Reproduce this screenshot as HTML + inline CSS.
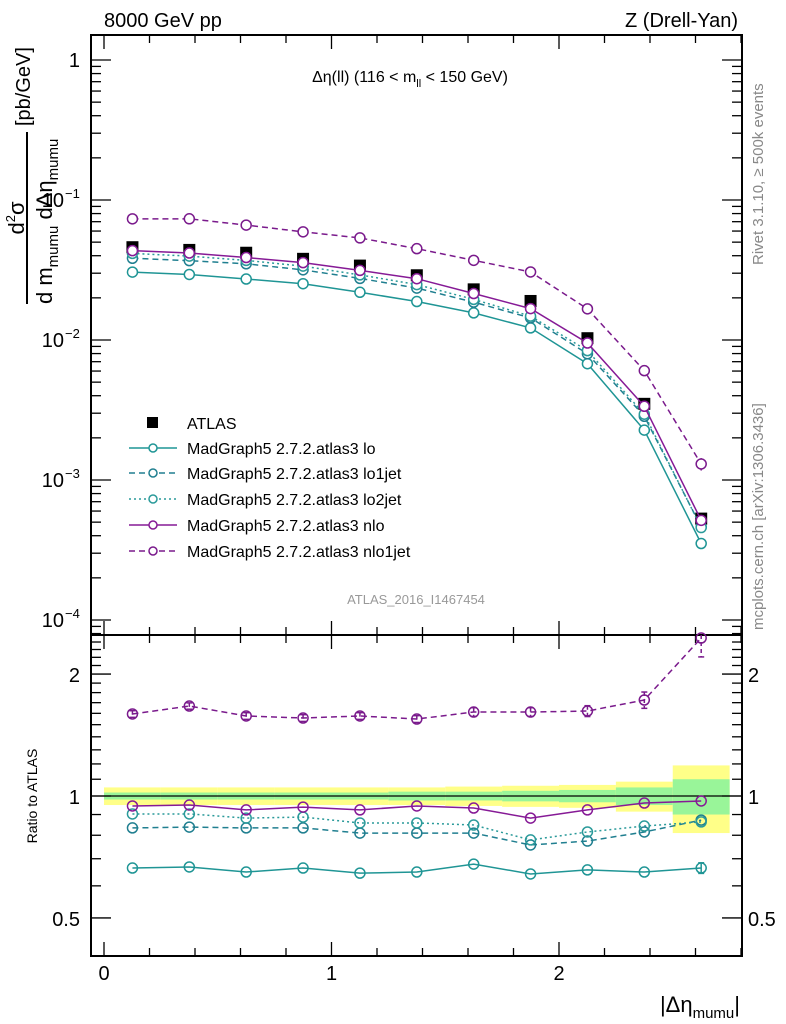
<!DOCTYPE html>
<html><head><meta charset="utf-8"><style>
body{margin:0;background:#fff}
svg{display:block;font-family:"Liberation Sans",sans-serif}
</style></head><body>
<svg id="c" width="786" height="1024" viewBox="0 0 786 1024" xmlns="http://www.w3.org/2000/svg">
<text x="104" y="27" font-size="20">8000 GeV pp</text>
<text x="738" y="27" font-size="20" text-anchor="end">Z (Drell-Yan)</text>
<text x="410" y="82" font-size="16" text-anchor="middle">Δη(ll) (116 &lt; m<tspan font-size="11" dy="5">ll</tspan><tspan dy="-5"> &lt; 150 GeV)</tspan></text>
<text x="416" y="604" font-size="13" fill="#999" text-anchor="middle">ATLAS_2016_I1467454</text>
<text transform="translate(763,265) rotate(-90)" font-size="15" fill="#888">Rivet 3.1.10, ≥ 500k events</text>
<text transform="translate(763,630) rotate(-90)" font-size="15" fill="#888">mcplots.cern.ch [arXiv:1306.3436]</text>
<g>
<text transform="translate(24,218) rotate(-90)" font-size="22" text-anchor="middle">d<tspan font-size="13" dy="-9">2</tspan><tspan dy="9">σ</tspan></text>
<line x1="27" y1="132" x2="27" y2="304" stroke="#000" stroke-width="2"/>
<text transform="translate(52,304) rotate(-90)" font-size="22">d m<tspan font-size="15" dy="6">mumu</tspan><tspan dy="-6"> dΔη</tspan><tspan font-size="15" dy="6">mumu</tspan></text>
<text transform="translate(30,126) rotate(-90)" font-size="20">[pb/GeV]</text>
</g>
<text transform="translate(37,796) rotate(-90)" font-size="14" text-anchor="middle">Ratio to ATLAS</text>
<text x="740" y="1012" font-size="22" text-anchor="end">|Δη<tspan font-size="15" dy="6">mumu</tspan><tspan dy="-6">|</tspan></text>
<g id="bands"></g><g id="axes"></g><g id="series"></g><g id="legend"></g>
</svg>
<script>
const xCenters=[0.125,0.375,0.625,0.875,1.125,1.375,1.625,1.875,2.125,2.375,2.625];
const binHalf=0.125;
const atlas=[0.046,0.044,0.042,0.038,0.034,0.029,0.023,0.019,0.0103,0.0035,0.00053];
const bandTot=[0.05,0.05,0.05,0.05,0.05,0.05,0.055,0.06,0.065,0.085,0.19];
const bandStat=[0.02,0.02,0.02,0.02,0.02,0.025,0.025,0.03,0.035,0.05,0.1];
const ratioLo=[0.664,0.668,0.649,0.664,0.645,0.649,0.679,0.642,0.657,0.649,0.664];
const ratioLo1jet=[0.834,0.838,0.834,0.834,0.810,0.810,0.810,0.757,0.774,0.815,0.872];
const ratioLo2jet=[0.903,0.903,0.882,0.887,0.858,0.858,0.848,0.779,0.815,0.843,0.863];
const ratioNlo=[0.945,0.950,0.924,0.939,0.924,0.945,0.934,0.882,0.924,0.961,0.972];
const ratioNlo1jet=[1.594,1.668,1.576,1.558,1.576,1.549,1.612,1.612,1.621,1.726,2.455];
const errNlo1jet=[0.03,0.03,0.03,0.03,0.03,0.03,0.04,0.04,0.05,0.08,0.25];
const errLo=[0,0,0,0,0,0,0,0,0,0,0.02];
const mainTicks=[1,0.1,0.01,0.001,0.0001];
const mainTickLabels=["1","10","10","10","10"];
const mainTickExp=["","−1","−2","−3","−4"];
const ratioTicks=[0.5,1,2];
const ratioTickLabels=["0.5","1","2"];
const xTicks=[0,1,2];
const xTickLabels=["0","1","2"];

const L=91,R=742,T=35,MB=635,RB=956;
const X=v=>104+227.5*v;
const YM=v=>60-140*Math.log10(v);
const YR=v=>796-405*Math.log10(v);
const NS="http://www.w3.org/2000/svg";
function mk(p,tag,at){const e=document.createElementNS(NS,tag);for(const k in at)e.setAttribute(k,at[k]);p.appendChild(e);return e;}
const gA=document.getElementById('axes'),gB=document.getElementById('bands'),gS=document.getElementById('series'),gL=document.getElementById('legend');

xCenters.forEach((c,i)=>{
 const x0=X(c-binHalf),x1=X(c+binHalf);
 const y=mk(gB,'rect',{x:x0,y:YR(1+bandTot[i]),width:x1-x0,height:YR(1-bandTot[i])-YR(1+bandTot[i]),fill:'#ffff88'});
 
 
 const g=mk(gB,'rect',{x:x0,y:YR(1+bandStat[i]),width:x1-x0,height:YR(1-bandStat[i])-YR(1+bandStat[i]),fill:'#99f599'});
 
 
});
mk(gB,'line',{x1:L,x2:R,y1:YR(1),y2:YR(1),stroke:'#000','stroke-width':1.3});

const f1=mk(gA,'rect',{x:L,y:T,width:R-L,height:MB-T,fill:'none',stroke:'#000','stroke-width':2});


const f2=mk(gA,'rect',{x:L,y:MB,width:R-L,height:RB-MB,fill:'none',stroke:'#000','stroke-width':2});


for(let k=0;k<=14;k++){const v=k*0.2;const x=X(v);const maj=(k%5===0);const len=maj?14:8;
 [[T,1],[MB,-1],[MB,1],[RB,-1]].forEach(([y0,d])=>mk(gA,'line',{x1:x,x2:x,y1:y0,y2:y0+d*len,stroke:'#000','stroke-width':1.3}));}
xTicks.forEach((v,i)=>{const t=mk(gA,'text',{x:X(v),y:980,'font-size':20,'text-anchor':'middle'});t.textContent=xTickLabels[i];
 
 });
for(let d=-5;d<=0;d++){for(let m=1;m<=9;m++){const v=m*Math.pow(10,d);const y=YM(v);if(y<T||y>MB)continue;const len=m===1?20:10;
 mk(gA,'line',{x1:L,x2:L+len,y1:y,y2:y,stroke:'#000','stroke-width':1.3});mk(gA,'line',{x1:R,x2:R-len,y1:y,y2:y,stroke:'#000','stroke-width':1.3});}}
mainTicks.forEach((v,i)=>{const t=mk(gA,'text',{x:mainTickExp[i]?64:80,y:YM(v)+7,'font-size':20,'text-anchor':'end'});t.textContent=mainTickLabels[i];
 
 
 if(mainTickExp[i]){const s=mk(gA,'text',{x:65,y:YM(v)-2,'font-size':13});s.textContent=mainTickExp[i];}});
[0.5,0.6,0.7,0.8,0.9,1,1.1,1.2,1.3,1.4,1.5,1.6,1.7,1.8,1.9,2,2.1,2.2,2.3,2.4].forEach(v=>{const y=YR(v);const maj=ratioTicks.includes(v);const len=maj?20:10;
 mk(gA,'line',{x1:L,x2:L+len,y1:y,y2:y,stroke:'#000','stroke-width':1.3});mk(gA,'line',{x1:R,x2:R-len,y1:y,y2:y,stroke:'#000','stroke-width':1.3});});
ratioTicks.forEach((v,i)=>{[[80,'end'],[748,'start']].forEach(([x,a])=>{const t=mk(gA,'text',{x:x,y:YR(v)+8,'font-size':20,'text-anchor':a});t.textContent=ratioTickLabels[i];
 
 });});

const series=[
 {name:'lo',r:ratioLo,c:'#1f9595',d:'',e:errLo,label:'MadGraph5 2.7.2.atlas3 lo'},
 {name:'lo1jet',r:ratioLo1jet,c:'#207f90',d:'6,4',e:null,label:'MadGraph5 2.7.2.atlas3 lo1jet'},
 {name:'lo2jet',r:ratioLo2jet,c:'#2a9a9a',d:'2,3',e:null,label:'MadGraph5 2.7.2.atlas3 lo2jet'},
 {name:'nlo',r:ratioNlo,c:'#861a96',d:'',e:null,label:'MadGraph5 2.7.2.atlas3 nlo'},
 {name:'nlo1jet',r:ratioNlo1jet,c:'#7a1a8c',d:'6,4',e:errNlo1jet,label:'MadGraph5 2.7.2.atlas3 nlo1jet'}];
const ga=mk(gS,'g',{});


xCenters.forEach((c,i)=>mk(ga,'rect',{x:X(c)-6,y:YM(atlas[i])-6,width:12,height:12,fill:'#000'}));
series.forEach(s=>{
 const gm=mk(gS,'g',{});
 
 
 const gr=mk(gS,'g',{});
 
 
 const pm=xCenters.map((c,i)=>X(c)+','+YM(atlas[i]*s.r[i])).join(' ');
 const pr=xCenters.map((c,i)=>X(c)+','+Math.max(YR(s.r[i]),T+2)).join(' ');
 mk(gm,'polyline',{points:pm,fill:'none',stroke:s.c,'stroke-width':1.5,'stroke-dasharray':s.d});
 mk(gr,'polyline',{points:pr,fill:'none',stroke:s.c,'stroke-width':1.5,'stroke-dasharray':s.d});
 xCenters.forEach((c,i)=>{
  if(s.e&&s.e[i]>0){const y1=YR(s.r[i]+s.e[i]),y2=YR(s.r[i]-s.e[i]);
   mk(gr,'line',{x1:X(c),x2:X(c),y1:Math.max(y1,MB),y2:y2,stroke:s.c,'stroke-width':1.5,'stroke-dasharray':s.d?'4,3':''});
   mk(gr,'line',{x1:X(c)-3,x2:X(c)+3,y1:y2,y2:y2,stroke:s.c,'stroke-width':1.5});
   if(y1>MB)mk(gr,'line',{x1:X(c)-3,x2:X(c)+3,y1:y1,y2:y1,stroke:s.c,'stroke-width':1.5});
   const m1=YM(atlas[i]*(s.r[i]+s.e[i])),m2=YM(atlas[i]*(s.r[i]-s.e[i]));
   mk(gm,'line',{x1:X(c),x2:X(c),y1:m1,y2:m2,stroke:s.c,'stroke-width':1.5});}
  mk(gm,'circle',{cx:X(c),cy:YM(atlas[i]*s.r[i]),r:5,fill:'#fff',stroke:s.c,'stroke-width':1.5});
  mk(gr,'circle',{cx:X(c),cy:Math.max(YR(s.r[i]),T+2),r:5,fill:'none',stroke:s.c,'stroke-width':1.5});
 });
});

const rowY=[423,448,473,499,525,551];
const li0=mk(gL,'g',{});


mk(li0,'rect',{x:147,y:rowY[0]-6,width:11,height:11,fill:'#000'});
const t0=mk(li0,'text',{x:187,y:rowY[0]+6,'font-size':16});t0.textContent='ATLAS';
series.forEach((s,k)=>{const y=rowY[k+1];const g=mk(gL,'g',{});
 
 
 mk(g,'line',{x1:129,x2:177,y1:y,y2:y,stroke:s.c,'stroke-width':1.5,'stroke-dasharray':s.d});
 mk(g,'circle',{cx:153,cy:y,r:4,fill:'#fff',stroke:s.c,'stroke-width':1.5});
 const t=mk(g,'text',{x:187,y:y+6,'font-size':16});t.textContent=s.label;});
</script>
</body></html>
